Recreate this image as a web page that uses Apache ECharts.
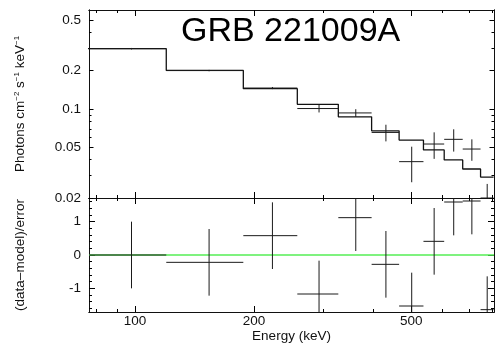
<!DOCTYPE html>
<html>
<head>
<meta charset="utf-8">
<script src="https://cdn.jsdelivr.net/npm/echarts@6/dist/echarts.min.js"></script>
<style>
html, body { margin: 0; padding: 0; background: #fff; }
#chart { width: 504px; height: 352px; }
</style>
</head>
<body>
<div id="chart"></div>
<script>
// spectrum bins (keV)
var binLow  = [76, 120, 188, 257.5, 327, 397, 466, 537, 606, 675, 749];
var binHigh = [120, 188, 257.5, 327, 397, 466, 537, 606, 675, 749, 808];
// folded model and data (photons cm-2 s-1 keV-1)
var modelFlux = [0.298, 0.201, 0.1446, 0.109, 0.0868, 0.0674, 0.0570, 0.0477, 0.0398, 0.0338, 0.0292];
var dataFlux  = [0.298, 0.2005, 0.1462, 0.1009, 0.0932, 0.0655, 0.0386, 0.0531, 0.0578, 0.0485, 0.0200];
var dataErr   = [0.004, 0.0025, 0.0028, 0.0069, 0.0065, 0.0098, 0.012, 0.0125, 0.0115, 0.0093, 0.0058];
// residuals (data-model)/error
var residual    = [0.0, -0.22, 0.58, -1.17, 1.12, -0.28, -1.53, 0.41, 1.59, 1.62, -1.64];
var residualErr = [1, 1, 1, 1, 1, 1, 1, 1, 1, 1, 1];

// ticks
var energyLabels = [100, 200, 500];
var energyMinor  = [80, 90, 300, 400, 600, 700, 800];
var fluxLabels = [0.02, 0.05, 0.1, 0.2, 0.5];
var fluxMinor  = [0.03, 0.04, 0.06, 0.07, 0.08, 0.09, 0.3, 0.4];
var residLabels = [-1, 0, 1];
var residMinor  = [-1.6, -1.4, -1.2, -0.8, -0.6, -0.4, -0.2, 0.2, 0.4, 0.6, 0.8, 1.2, 1.4, 1.6];

var eMin = 76.5, eMax = 810;
var fMin = 0.02, fMax = 0.6;
var rMin = -1.71, rMax = 1.71;

var FONT = 'Liberation Sans, Arial, sans-serif';
var INK = '#111';

var myChart = echarts.init(document.getElementById('chart'));

function fmt(v) { return String(+(+v).toPrecision(6)); }

// frame side: two tick-only axes, long ticks + short ticks
function tickSide(opt) {
    return [[opt.major, opt.majorLen], [opt.minor, opt.minorLen]].map(function (t) {
        return {
            type: opt.type,
            gridIndex: opt.grid,
            position: opt.position,
            min: opt.min,
            max: opt.max,
            axisLine: {show: true, onZero: false, lineStyle: {color: INK, width: 1}},
            axisTick: {show: true, inside: true, length: t[1], customValues: t[0], lineStyle: {color: '#000', width: 1}},
            axisLabel: {show: false},
            splitLine: {show: false},
            minorTick: {show: false}
        };
    });
}

// label-only axis, lives on its own overlay grid
function labelAxis(opt) {
    var ax = {
        type: opt.type,
        gridIndex: opt.grid,
        position: opt.position,
        min: opt.min,
        max: opt.max,
        axisLine: {show: false, onZero: false},
        axisTick: {show: false},
        splitLine: {show: false},
        minorTick: {show: false},
        axisLabel: {show: false}
    };
    if (opt.values) {
        ax.axisLabel = {
            show: true, customValues: opt.values, formatter: fmt,
            color: INK, fontFamily: FONT, fontSize: 13.5, margin: opt.margin
        };
    }
    if (opt.name) {
        ax.name = opt.name;
        ax.nameLocation = 'middle';
        ax.nameGap = opt.nameGap;
        ax.nameTextStyle = {
            color: INK, fontFamily: FONT, fontSize: 13.5,
            rich: {sup: {fontSize: 8, verticalAlign: 'top', fontFamily: FONT, color: INK}}
        };
    }
    return ax;
}

var eTicks = {type: 'log', min: eMin, max: eMax, major: energyLabels, minor: energyMinor, majorLen: 6, minorLen: 3};
var fTicks = {type: 'log', grid: 0, min: fMin, max: fMax, major: fluxLabels, minor: fluxMinor, majorLen: 4.5, minorLen: 2.5};
var rTicks = {type: 'value', grid: 1, min: rMin, max: rMax, major: residLabels, minor: residMinor, majorLen: 6, minorLen: 3};

function withPos(base, extra) {
    var o = {};
    for (var k in base) o[k] = base[k];
    for (var j in extra) o[j] = extra[j];
    return o;
}

var xAxes = [].concat(
    tickSide(withPos(eTicks, {grid: 0, position: 'bottom'})),
    tickSide(withPos(eTicks, {grid: 0, position: 'top'})),
    tickSide(withPos(eTicks, {grid: 1, position: 'bottom'})),
    tickSide(withPos(eTicks, {grid: 1, position: 'top'})),
    [
        labelAxis({type: 'log', grid: 2, position: 'bottom', min: eMin, max: eMax}),
        labelAxis({type: 'log', grid: 3, position: 'bottom', min: eMin, max: eMax,
            values: energyLabels, margin: 2, name: 'Energy (keV)', nameGap: 12})
    ]
);

var yAxes = [].concat(
    tickSide(withPos(fTicks, {position: 'left'})),
    tickSide(withPos(fTicks, {position: 'right'})),
    tickSide(withPos(rTicks, {position: 'left'})),
    tickSide(withPos(rTicks, {position: 'right'})),
    [
        labelAxis({type: 'log', grid: 2, position: 'left', min: fMin, max: fMax,
            values: fluxLabels, margin: 8, name: 'Photons cm{sup|\u22122} s{sup|\u22121} keV{sup|\u22121}', nameGap: 62}),
        labelAxis({type: 'value', grid: 3, position: 'left', min: rMin, max: rMax,
            values: residLabels, margin: 8, name: '(data\u2013model)/error', nameGap: 62})
    ]
);

// histogram points for the folded model
var modelSteps = binLow.map(function (lo, i) { return [lo, modelFlux[i]]; });
modelSteps.push([binHigh[binHigh.length - 1], modelFlux[modelFlux.length - 1]]);

var crossData = binLow.map(function (lo, i) {
    return [lo, binHigh[i], (lo + binHigh[i]) / 2, dataFlux[i], dataErr[i]];
});
var residData = binLow.map(function (lo, i) {
    return [lo, binHigh[i], (lo + binHigh[i]) / 2, residual[i], residualErr[i]];
});

function renderCross(floor) {
    return function (params, api) {
        var y = api.value(3), e = api.value(4), xc = api.value(2);
        var a = api.coord([api.value(0), y]);
        var b = api.coord([api.value(1), y]);
        var t = api.coord([xc, y + e]);
        var d = api.coord([xc, floor === null ? y - e : Math.max(y - e, floor)]);
        var st = {stroke: '#1a1a1a', lineWidth: 1};
        return {
            type: 'group',
            children: [
                {type: 'line', shape: {x1: a[0], y1: a[1], x2: b[0], y2: b[1]}, style: st},
                {type: 'line', shape: {x1: t[0], y1: t[1], x2: d[0], y2: d[1]}, style: st}
            ]
        };
    };
}

var option = {
    animation: false,
    backgroundColor: '#fff',
    graphic: [{
        type: 'text', left: 181, top: 15,
        style: {text: 'GRB 221009A', fontSize: 34, fontFamily: FONT, fill: '#000'}
    }],
    grid: [
        {left: 89, right: 10, top: 10, height: 188},
        {left: 89, right: 10, top: 198, height: 114},
        {left: 89, right: 10, top: 10, height: 188},
        {left: 89, right: 10, top: 198, height: 114}
    ],
    xAxis: xAxes,
    yAxis: yAxes,
    series: [
        {
            type: 'line', xAxisIndex: 0, yAxisIndex: 0,
            data: modelSteps, step: 'end', showSymbol: false, clip: true,
            lineStyle: {color: '#111', width: 1.3}, z: 3
        },
        {
            type: 'custom', xAxisIndex: 0, yAxisIndex: 0, clip: true,
            data: crossData, renderItem: renderCross(0.001),
            encode: {x: [0, 1, 2], y: 3}, z: 4
        },
        {
            type: 'line', xAxisIndex: 4, yAxisIndex: 4,
            data: [[eMin, 0], [eMax, 0]], showSymbol: false,
            lineStyle: {color: '#55ee55', width: 1.5}, z: 2
        },
        {
            type: 'custom', xAxisIndex: 4, yAxisIndex: 4, clip: true,
            data: residData, renderItem: renderCross(null),
            encode: {x: [0, 1, 2], y: 3}, z: 4
        }
    ]
};

myChart.setOption(option);
</script>
</body>
</html>
